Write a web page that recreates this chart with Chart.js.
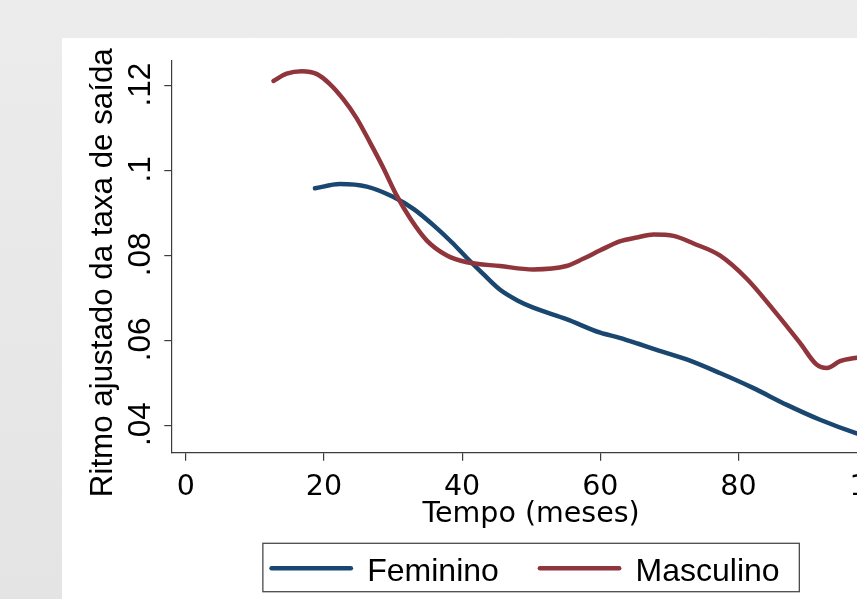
<!DOCTYPE html>
<html>
<head>
<meta charset="utf-8">
<script src="https://cdn.jsdelivr.net/npm/chart.js@4/dist/chart.umd.min.js"></script>
<style>
    html, body {
        margin: 0;
        padding: 0;
        width: 857px;
        height: 599px;
        overflow: hidden;
        background: linear-gradient(180deg, #ececec 0%, #e4e4e4 100%);
    }
    #chart {
        position: absolute;
        left: 62px;
        top: 38px;
        background: #ffffff;
    }
</style>
</head>
<body>
<canvas id="chart" width="880" height="561"></canvas>
<script>
// ============================================================================
// Data
// ============================================================================

const seriesNames = ["Feminino", "Masculino"];

const femMonths = [18.7, 22.3, 26.2, 30.0, 33.0, 36.0, 38.5, 40.7, 43.0, 45.5, 48.0, 50.3,
    55.1, 60.0, 62.8, 65.5, 67.7, 72.5, 77.3, 82.1, 87.0, 91.8, 97.1, 100];
const femRate = [0.0959, 0.0969, 0.0963, 0.0939, 0.0910, 0.0870, 0.0832, 0.0795, 0.0758, 0.0720, 0.0695, 0.0678,
    0.0651, 0.0619, 0.0607, 0.0593, 0.0581, 0.0556, 0.0524, 0.0489, 0.0449, 0.0414, 0.0382, 0.0368];

const mascMonths = [12.7, 14.6, 16.8, 19.0, 20.9, 22.8, 24.7, 26.7, 28.6, 30.5, 32.5, 34.9, 37.8,
    40.7, 45.5, 50.3, 55.1, 57.5, 60.0, 62.8, 65.5, 67.7, 70.6, 73.5, 77.3, 81.2, 85.0,
    88.9, 91.3, 92.8, 94.7, 97.1, 100];
const mascRate = [0.1212, 0.1229, 0.1235, 0.1228, 0.1204, 0.1169, 0.1125, 0.1066, 0.1007, 0.0943, 0.0888, 0.0836, 0.0801,
    0.0785, 0.0776, 0.0768, 0.0776, 0.0793, 0.0813, 0.0834, 0.0844, 0.0850, 0.0847, 0.0829, 0.0801, 0.0746, 0.0674,
    0.0595, 0.0544, 0.0536, 0.0552, 0.0560, 0.0566];

const xTickValues = [0, 20, 40, 60, 80, 100];
const xTickLabels = ["0", "20", "40", "60", "80", "100"];
const yTickValues = [0.04, 0.06, 0.08, 0.1, 0.12];
const yTickLabels = [".04", ".06", ".08", ".1", ".12"];

const xTitle = "Tempo (meses)";
const yTitle = "Ritmo ajustado da taxa de saída";

// ============================================================================
// Styling
// ============================================================================

const COLORS = { fem: "#1a476f", masc: "#90353b", axis: "#3c3c3c", text: "#000000" };
const SANS = "'Liberation Sans', Arial, sans-serif";
const WIDE = "'DejaVu Sans', sans-serif";

/**
 * Turn two parallel arrays into {x, y} points
 */
function toPoints(xs, ys) {
    return xs.map((x, i) => ({ x: x, y: ys[i] }));
}

/**
 * Rotated y tick labels, y title and boxed legend (Stata look)
 */
const stataDecorPlugin = {
    id: "stataDecor",
    afterDraw(chart) {
        const ctx = chart.ctx;
        const area = chart.chartArea;
        const yScale = chart.scales.y;

        ctx.save();
        ctx.fillStyle = COLORS.text;

        // y tick labels, reading bottom to top
        ctx.font = `31.5px ${SANS}`;
        ctx.textAlign = "center";
        ctx.textBaseline = "alphabetic";
        yTickValues.forEach((v, i) => {
            ctx.save();
            ctx.translate(area.left - 21.7, yScale.getPixelForValue(v) - 1.5);
            ctx.rotate(-Math.PI / 2);
            ctx.fillText(yTickLabels[i], 0, 0);
            ctx.restore();
        });

        // y axis title
        ctx.font = `31.3px ${SANS}`;
        ctx.save();
        ctx.translate(area.left - 60, area.top + 212);
        ctx.rotate(-Math.PI / 2);
        ctx.fillText(yTitle, 0, 0);
        ctx.restore();

        // legend
        ctx.font = `32px ${SANS}`;
        const lineLen = 83.3, padL = 6.7, padR = 19.7, gapText = 14.4, gapItem = 39;
        const sets = chart.data.datasets.slice().sort((a, b) => a.legendIndex - b.legendIndex);
        const widths = sets.map((d) => ctx.measureText(d.label).width);
        const boxW = padL + padR + gapItem * (sets.length - 1)
            + widths.reduce((acc, w) => acc + lineLen + gapText + w, 0);
        const boxH = 48.4;
        const boxL = (area.left + area.right) / 2 - boxW / 2;
        const boxT = area.bottom + 90.6;

        ctx.strokeStyle = "#4a4a4a";
        ctx.lineWidth = 1.3;
        ctx.strokeRect(boxL, boxT, boxW, boxH);

        let cursor = boxL + padL;
        ctx.textAlign = "left";
        sets.forEach((d, i) => {
            ctx.strokeStyle = d.borderColor;
            ctx.lineWidth = 4.5;
            ctx.lineCap = "round";
            ctx.beginPath();
            ctx.moveTo(cursor + 2, boxT + 25);
            ctx.lineTo(cursor + lineLen - 2, boxT + 25);
            ctx.stroke();
            cursor += lineLen + gapText;
            ctx.fillText(d.label, cursor, boxT + 37.4);
            cursor += widths[i] + gapItem;
        });

        ctx.restore();
    },
};

function drawChart() {
    const canvas = document.getElementById("chart");

    return new Chart(canvas.getContext("2d"), {
        type: "line",
        data: {
            datasets: [
                {
                    label: seriesNames[0],
                    legendIndex: 0,
                    order: 1,
                    data: toPoints(femMonths, femRate),
                    borderColor: COLORS.fem,
                    borderWidth: 4.5,
                    pointRadius: 0,
                    cubicInterpolationMode: "monotone",
                    borderCapStyle: "round",
                    borderJoinStyle: "round",
                    fill: false,
                },
                {
                    label: seriesNames[1],
                    legendIndex: 1,
                    order: 0,
                    data: toPoints(mascMonths, mascRate),
                    borderColor: COLORS.masc,
                    borderWidth: 4.5,
                    pointRadius: 0,
                    cubicInterpolationMode: "monotone",
                    borderCapStyle: "round",
                    borderJoinStyle: "round",
                    fill: false,
                },
            ],
        },
        options: {
            responsive: false,
            animation: false,
            devicePixelRatio: 1,
            layout: { padding: { left: 0, top: 22.7, right: 51.5, bottom: 66.3 } },
            plugins: { legend: { display: false }, tooltip: { enabled: false } },
            scales: {
                x: {
                    type: "linear",
                    min: -2.03,
                    max: 102,
                    afterBuildTicks: (scale) => { scale.ticks = xTickValues.map((v) => ({ value: v })); },
                    afterFit: (scale) => { scale.height = 80; },
                    grid: { display: true, drawOnChartArea: false, drawTicks: true, tickLength: 8, color: COLORS.axis, lineWidth: 1.2 },
                    border: { display: true, color: COLORS.axis, width: 1.2 },
                    ticks: {
                        color: COLORS.text,
                        font: { family: WIDE, size: 28.5 },
                        padding: 10,
                        maxRotation: 0,
                        autoSkip: false,
                        callback: (value) => xTickLabels[xTickValues.indexOf(value)],
                    },
                    title: {
                        display: true,
                        text: xTitle,
                        color: COLORS.text,
                        font: { family: WIDE, size: 28.5 },
                        padding: { top: 0, bottom: 1.5 },
                    },
                },
                y: {
                    type: "linear",
                    min: 0.03364,
                    max: 0.12596,
                    afterBuildTicks: (scale) => { scale.ticks = yTickValues.map((v) => ({ value: v })); },
                    afterFit: (scale) => { scale.width = 109.7; },
                    grid: { display: true, drawOnChartArea: false, drawTicks: true, tickLength: 7.4, color: COLORS.axis, lineWidth: 1.2 },
                    border: { display: true, color: COLORS.axis, width: 1.2 },
                    ticks: { display: false },
                },
            },
        },
        plugins: [stataDecorPlugin],
    });
}

drawChart();
</script>
</body>
</html>
